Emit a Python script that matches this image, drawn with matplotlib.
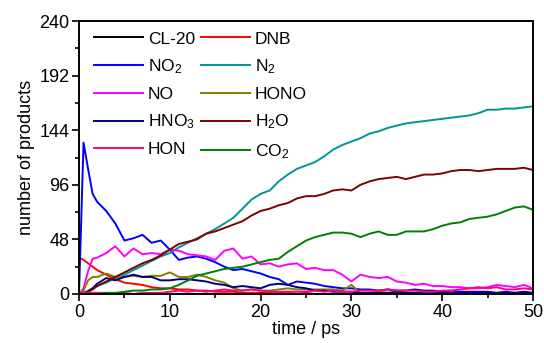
import numpy as np
import matplotlib
matplotlib.use("Agg")
import matplotlib.pyplot as plt
from matplotlib.ticker import MultipleLocator

plt.rcParams['font.family'] = ['Liberation Sans', 'DejaVu Sans']
plt.rcParams['mathtext.fontset'] = 'custom'
plt.rcParams['mathtext.rm'] = 'Liberation Sans'
plt.rcParams['mathtext.it'] = 'Liberation Sans'

# time axis (ps)
t = [0, 0.5, 1, 1.5, 2] + list(range(3, 51))

cl20 = [1, 0, 0, 0, 0] + [0] * 48
dnb = [32, 30, 27, 24, 21, 17, 13, 10, 9, 8, 6, 5, 5, 4, 4, 3, 3, 2, 2, 2, 1, 1, 1,
       1, 1, 1, 0, 1, 0, 0, 0, 0, 0, 0, 0, 0, 0, 0, 0, 0, 0, 0, 0, 0, 0, 0, 0, 0, 0, 0, 0, 0, 0]
no2 = [0, 133, 110, 88, 81, 73, 62, 47, 49, 52, 45, 47, 39, 30, 32, 33, 31, 28, 24, 21, 22,
       20, 18, 15, 13, 8, 11, 10, 9, 7, 6, 5, 5, 4, 4, 3, 4, 3, 3, 4, 3, 3, 2, 3, 2, 2, 2,
       2, 1, 2, 1, 2, 1]
n2 = [0, 1, 3, 5, 7, 10, 14, 17, 21, 25, 29, 33, 36, 41, 45, 49, 53, 57, 62, 67, 75, 83,
      88, 91, 99, 105, 110, 113, 116, 121, 127, 131, 134, 137, 141, 143, 146, 148, 150,
      151, 152, 153, 154, 155, 156, 157, 159, 162, 162, 163, 163, 164, 165]
no = [0, 5, 20, 31, 32, 36, 42, 33, 40, 35, 36, 35, 39, 38, 35, 34, 33, 30, 38, 40, 31,
      33, 26, 27, 24, 26, 27, 22, 23, 21, 21, 17, 11, 17, 15, 14, 15, 11, 10, 8, 9, 7, 7,
      6, 6, 5, 5, 6, 8, 7, 6, 8, 5]
hono = [0, 3, 12, 15, 15, 18, 15, 15, 16, 15, 16, 16, 19, 15, 15, 17, 15, 12, 10, 5, 3,
        4, 3, 3, 4, 5, 4, 4, 4, 4, 4, 3, 8, 1, 1, 2, 1, 1, 1, 1, 0, 1, 0, 0, 1, 0, 0, 0,
        1, 0, 0, 0, 0]
hno3 = [0, 0, 2, 5, 9, 14, 12, 15, 17, 15, 15, 12, 12, 13, 13, 12, 11, 9, 8, 6, 7, 6, 5,
        8, 9, 8, 6, 5, 3, 3, 2, 2, 2, 1, 1, 1, 1, 2, 1, 1, 1, 1, 1, 1, 1, 1, 1, 1, 1, 1,
        1, 1, 1]
h2o = [0, 1, 2, 4, 7, 11, 15, 19, 23, 27, 30, 34, 39, 44, 46, 48, 53, 55, 58, 61, 64,
       69, 73, 75, 78, 80, 84, 86, 86, 88, 91, 92, 91, 96, 99, 101, 102, 103, 101, 103,
       105, 105, 106, 108, 109, 109, 108, 109, 110, 110, 110, 111, 109]
hon = [0, 1, 1, 1, 1, 1, 0, 1, 0, 1, 1, 1, 2, 3, 2, 3, 2, 3, 4, 3, 3, 4, 3, 2, 2, 2, 2,
       2, 3, 2, 3, 2, 2, 3, 3, 3, 4, 3, 3, 3, 2, 2, 3, 3, 4, 5, 6, 5, 6, 4, 4, 5, 4]
co2 = [0, 0, 0, 0, 0, 1, 1, 2, 3, 3, 4, 4, 5, 8, 12, 16, 18, 20, 22, 23, 24, 26, 28, 30,
       31, 37, 42, 47, 50, 52, 54, 54, 53, 50, 53, 55, 52, 52, 55, 55, 55, 57, 60, 62, 63,
       66, 67, 68, 70, 73, 76, 77, 74]

series = [
    ("CL-20", cl20, "#000000"),
    ("DNB", dnb, "#ff0000"),
    ("NO$_2$", no2, "#0000ff"),
    ("N$_2$", n2, "#009494"),
    ("NO", no, "#ff00ff"),
    ("HONO", hono, "#808000"),
    ("HNO$_3$", hno3, "#000080"),
    ("H$_2$O", h2o, "#800000"),
    ("HON", hon, "#ff0080"),
    ("CO$_2$", co2, "#008000"),
]

fig = plt.figure(figsize=(5.44, 3.43), dpi=100)
ax = fig.add_axes([79 / 544, 1 - 294 / 343, 454 / 544, 273 / 343])

handles = []
for name, vals, col in series:
    h, = ax.plot(t, vals, color=col, lw=1.4, label=name)
    handles.append(h)

ax.set_xlim(0, 50)
ax.set_ylim(0, 240)
ax.xaxis.set_major_locator(MultipleLocator(10))
ax.xaxis.set_minor_locator(MultipleLocator(5))
ax.yaxis.set_major_locator(MultipleLocator(48))
ax.yaxis.set_minor_locator(MultipleLocator(24))
ax.tick_params(which='both', direction='out', top=False, right=False,
               labelsize=13, width=1.2, pad=2)
ax.tick_params(which='major', length=5)
ax.tick_params(which='minor', length=3)
for s in ax.spines.values():
    s.set_linewidth(1.4)

ax.set_xlabel("time / ps", fontsize=13, labelpad=0)
ax.set_ylabel("number of products", fontsize=13, labelpad=3)

order = [0, 2, 4, 6, 8, 1, 3, 5, 7, 9]
ax.legend([handles[i] for i in order], [handles[i].get_label() for i in order],
          ncol=2, frameon=False, fontsize=12.5, loc='upper left',
          bbox_to_anchor=(0.01, 1.0), handlelength=2.8, handletextpad=0.3,
          columnspacing=0.35, labelspacing=0.62, borderaxespad=0.2)

fig.savefig("out.png", dpi=100)
